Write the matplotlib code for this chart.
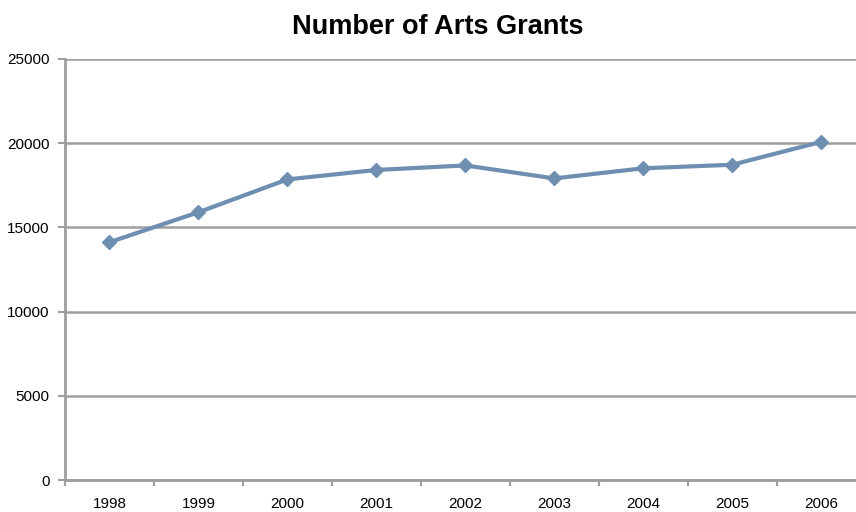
import numpy as np
import matplotlib.pyplot as plt

plt.rcParams['font.family'] = ['Liberation Sans', 'DejaVu Sans']

# Number of arts grants per year
years = ["1998", "1999", "2000", "2001", "2002", "2003", "2004", "2005", "2006"]
grants = [14120, 15900, 17850, 18410, 18680, 17910, 18510, 18720, 20080]

grid_col = "#9e9e9e"
line_col = "#6f8fb2"

fig = plt.figure(figsize=(8.56, 5.12), dpi=100)
ax = fig.add_axes([65 / 856, 32 / 512, 800.6 / 856, 421 / 512])

x = np.arange(len(years))
ax.plot(x, grants, color=line_col, lw=3.0, marker="D", markersize=7.5,
        markerfacecolor=line_col, markeredgecolor=line_col, zorder=3,
        solid_joinstyle="round")

ax.set_xlim(-0.5, len(years) - 0.5)
ax.set_ylim(0, 25000)
ax.set_yticks(np.arange(0, 25001, 5000))
ax.set_xticks(x)
ax.set_xticklabels(years)
ax.set_xticks(np.arange(-0.5, len(years), 1), minor=True)
ax.tick_params(axis="x", which="major", length=0, pad=12, labelsize=11)
ax.tick_params(axis="x", which="minor", length=4, width=1.5, color=grid_col)
ax.tick_params(axis="y", length=5, width=1.5, color=grid_col, pad=6, labelsize=11)

ax.yaxis.grid(True, color=grid_col, lw=1.8)
ax.set_axisbelow(True)
for side in ["top", "right"]:
    ax.spines[side].set_visible(False)
for side in ["left", "bottom"]:
    ax.spines[side].set_color(grid_col)
    ax.spines[side].set_linewidth(2.0)

fig.text(438 / 856, 1 - 33.5 / 512, "Number of Arts Grants", ha="center", va="baseline",
         fontsize=19.5, fontweight="bold")

fig.savefig("out.png", dpi=100)
